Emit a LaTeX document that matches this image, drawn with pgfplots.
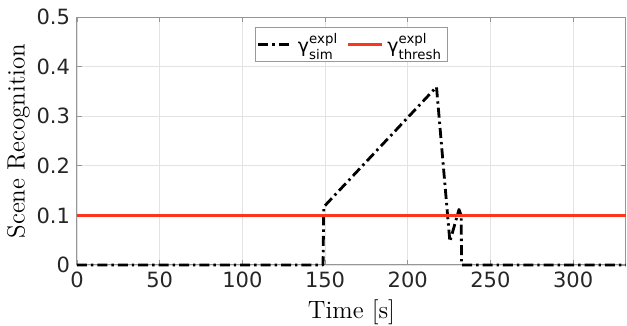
\documentclass[border=0pt]{standalone}
\usepackage{amsmath}
\usepackage{fontspec}
\newfontfamily\dejavu{DejaVu Sans}
\usepackage{pgfplots}
\pgfplotsset{compat=1.18}
\definecolor{mred}{RGB}{250,55,30}
\definecolor{axgray}{RGB}{150,150,150}
\definecolor{tickc}{RGB}{38,38,38}
\begin{document}
\begin{tikzpicture}
\useasboundingbox (-38.5pt,-30.5pt) rectangle (275pt,132.5pt);
\begin{axis}[
  scale only axis,
  width=274.5pt, height=124pt,
  xmin=0, xmax=332, ymin=0, ymax=0.5,
  clip=false,
  xtick={0,50,...,300}, ytick={0,0.1,...,0.5},
  /pgf/number format/assume math mode=true,
  yticklabel style={/pgf/number format/fixed,/pgf/number format/precision=1},
  ticklabel style={font=\dejavu\fontsize{10.5}{12}\selectfont, text=tickc},
  tick align=inside, major tick length=2.5pt,
  tick style={axgray, line width=0.4pt},
  axis line style={axgray, line width=0.5pt},
  grid=major, major grid style={gray!22, line width=0.4pt},
  xlabel={Time [s]}, ylabel={Scene Recognition},
  label style={font=\fontsize{12.5}{15}\selectfont},
  xlabel style={yshift=1pt},
  ylabel style={yshift=-3.5pt},
  legend style={at={(0.5,0.96)}, anchor=north, legend columns=2,
    font=\dejavu\fontsize{9.5}{11}\selectfont, draw=gray!80, line width=0.5pt,
    inner sep=1pt, /tikz/every even column/.append style={column sep=2pt}},
  legend cell align=left,
]
\addplot[black, line width=1.4pt, line join=round, dash pattern=on 5pt off 2pt on 1.2pt off 2pt] coordinates {
 (0,0) (148.8,0) (149.2,0.117) (217.4,0.359) (225.5,0.047) (231,0.112) (232.3,0.10) (232.6,0) (332,0)
};
\addlegendentry{$\text{γ}^{\text{expl}}_{\text{sim}}$}
\addplot[mred, line width=1.5pt] coordinates {(0,0.1) (332,0.1)};
\addlegendentry{$\text{γ}^{\text{expl}}_{\text{thresh}}$}
\end{axis}
\end{tikzpicture}
\end{document}
